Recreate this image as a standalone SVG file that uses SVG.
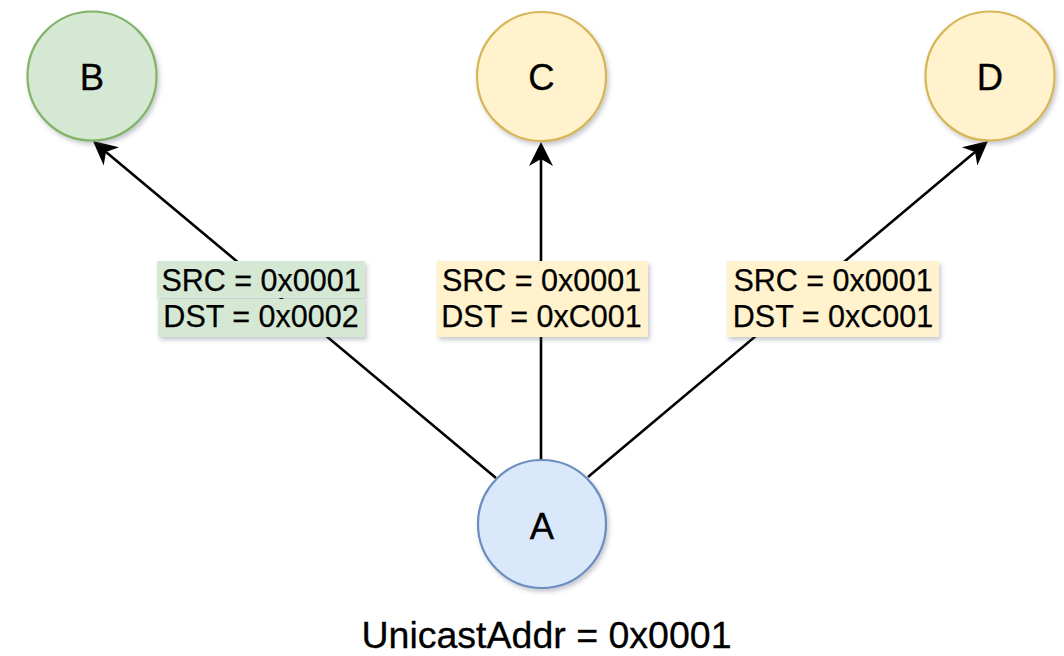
<svg xmlns="http://www.w3.org/2000/svg" width="1064" height="656" viewBox="0 0 1064 656">
  <defs>
    <filter id="shadow" x="-20%" y="-20%" width="150%" height="150%">
      <feDropShadow dx="2" dy="3" stdDeviation="2.2" flood-color="#4a4f66" flood-opacity="0.3"/>
    </filter>
    <marker id="arrow" viewBox="-25 -13 27 26" markerWidth="27" markerHeight="26" refX="-17" refY="0" orient="auto" markerUnits="userSpaceOnUse">
      <path d="M0,0 L-24,-12 L-17,0 L-24,12 Z" fill="#000"/>
    </marker>
  </defs>
  <style>
    .node { stroke-width: 2.2; filter: url(#shadow); }
    .green { fill: #d5e8d4; stroke: #82b366; }
    .yellow { fill: #fff2cc; stroke: #d6b656; }
    .blue { fill: #dae8fc; stroke: #6c8ebf; }
    .name { font-family: "Liberation Sans", Arial, Helvetica, sans-serif; font-size: 36.5px; fill: #000; text-anchor: middle; stroke: #000; stroke-width: 0.3; }
    .edge { stroke: #000; stroke-width: 2.6; fill: none; marker-end: url(#arrow); }
    .tag { filter: url(#shadow); }
    .tag-green { fill: #d5e8d4; }
    .tag-yellow { fill: #fff2cc; }
    .lbl { font-family: "Liberation Sans", Arial, Helvetica, sans-serif; font-size: 30.5px; fill: #000; text-anchor: middle; stroke: #000; stroke-width: 0.25; }
    .caption { font-family: "Liberation Sans", Arial, Helvetica, sans-serif; font-size: 37.5px; fill: #000; text-anchor: middle; stroke: #000; stroke-width: 0.3; }
  </style>

  <rect width="1064" height="656" fill="#fff"/>

  <!-- connectors from A with their address labels -->
  <g id="connectors">
    <line class="edge" x1="496" y1="478" x2="106" y2="151.9"/>
    <line class="edge" x1="541" y1="460" x2="541" y2="159"/>
    <line class="edge" x1="588" y1="477" x2="975" y2="151.9"/>

    <g id="label-a-b">
      <rect class="tag tag-green" x="157" y="261" width="208" height="37"/>
      <rect class="tag tag-green" x="158" y="299" width="207" height="38"/>
      <text class="lbl" x="261" y="291">SRC = 0x0001</text>
      <text class="lbl" x="261" y="327">DST = 0x0002</text>
    </g>
    <g id="label-a-c">
      <rect class="tag tag-yellow" x="437" y="261" width="211" height="76"/>
      <text class="lbl" x="541.5" y="291">SRC = 0x0001</text>
      <text class="lbl" x="541.5" y="327">DST = 0xC001</text>
    </g>
    <g id="label-a-d">
      <rect class="tag tag-yellow" x="727" y="261" width="212" height="76"/>
      <text class="lbl" x="833" y="291">SRC = 0x0001</text>
      <text class="lbl" x="833" y="327">DST = 0xC001</text>
    </g>
  </g>

  <g id="node-b">
    <circle class="node green" cx="92" cy="76" r="64.5"/>
    <text class="name" x="92" y="90">B</text>
  </g>
  <g id="node-c">
    <circle class="node yellow" cx="541.5" cy="76.5" r="64.5"/>
    <text class="name" x="541.5" y="90">C</text>
  </g>
  <g id="node-d">
    <circle class="node yellow" cx="990" cy="76" r="64.5"/>
    <text class="name" x="990" y="90">D</text>
  </g>
  <g id="node-a">
    <circle class="node blue" cx="542" cy="524" r="64"/>
    <text class="name" x="542" y="539">A</text>
  </g>

  <text id="unicast-caption" class="caption" x="546.5" y="648">UnicastAddr = 0x0001</text>
</svg>
